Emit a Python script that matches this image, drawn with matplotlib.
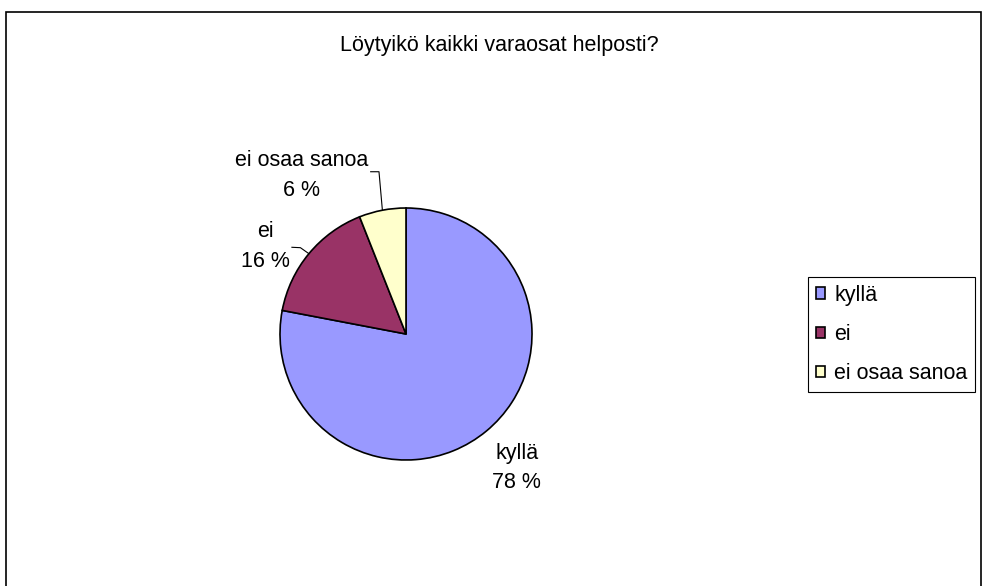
import numpy as np
import matplotlib.pyplot as plt
from matplotlib.patches import Rectangle, Patch

plt.rcParams['font.family'] = ['Liberation Sans', 'DejaVu Sans']

# Data
labels = ['kyllä', 'ei', 'ei osaa sanoa']
shares = [78, 16, 6]
colors = ['#9999FF', '#993366', '#FFFFCC']
title = 'Löytyikö kaikki varaosat helposti?'

W, H = 988, 586
FS = 15.5
fig = plt.figure(figsize=(W / 100, H / 100), dpi=100)
ax = fig.add_axes([0, 0, 1, 1])

cx, cy, r = 406, H - 334, 126
wedges, _ = ax.pie(shares, startangle=90, counterclock=False, colors=colors,
                   center=(cx, cy), radius=r, frame=True,
                   wedgeprops=dict(edgecolor='black', linewidth=1.2))
ax.set_xlim(0, W)
ax.set_ylim(0, H)
ax.set_aspect('equal')
ax.axis('off')

# label placement (angle deg, distance in radii) as Excel moved them
label_pos = [(-50.4, 1.38), (148.1, 1.31), (123.4, 1.51)]
for lab, val, (ang, dist) in zip(labels, shares, label_pos):
    a = np.radians(ang)
    ax.text(cx + dist * r * np.cos(a), cy + dist * r * np.sin(a),
            f'{lab}\n{val} %', ha='center', va='center', fontsize=FS,
            linespacing=1.55)

# leader lines from the wedge edge to the moved labels
cum = np.cumsum([0] + shares)
mids = 90 - (cum[:-1] + np.array(shares) / 2) / 100 * 360
bends = {1: [(-8.5, 6), (-17, 6.4)], 2: [(-3.4, 38.5), (-11.7, 38.5)]}
for i, offs in bends.items():
    a = np.radians(mids[i])
    x0, y0 = cx + r * np.cos(a), cy + r * np.sin(a)
    xs = [x0] + [x0 + dx for dx, dy in offs]
    ys = [y0] + [y0 + dy for dx, dy in offs]
    ax.plot(xs, ys, color='black', linewidth=0.8)

fig.text(499 / W, 1 - 51 / H, title, ha='center', va='baseline', fontsize=FS)

# outer chart border
fig.patches.append(Rectangle((6 / W, -0.05), 975 / W, 1 - 12 / H + 0.05,
                             transform=fig.transFigure, fill=False,
                             edgecolor='black', linewidth=1.2))

handles = [Patch(facecolor=c, edgecolor='black', linewidth=1.2) for c in colors]
leg = fig.legend(handles, labels, loc='upper left',
                 bbox_to_anchor=(808 / W, 1 - 277 / H), fontsize=FS,
                 frameon=True, fancybox=False, framealpha=1,
                 handlelength=0.45, handleheight=0.45, handletextpad=0.4,
                 labelspacing=0.85, borderpad=0.36, borderaxespad=0)
leg.get_frame().set_edgecolor('black')
leg.get_frame().set_linewidth(0.8)

fig.savefig('out.png', dpi=100)
